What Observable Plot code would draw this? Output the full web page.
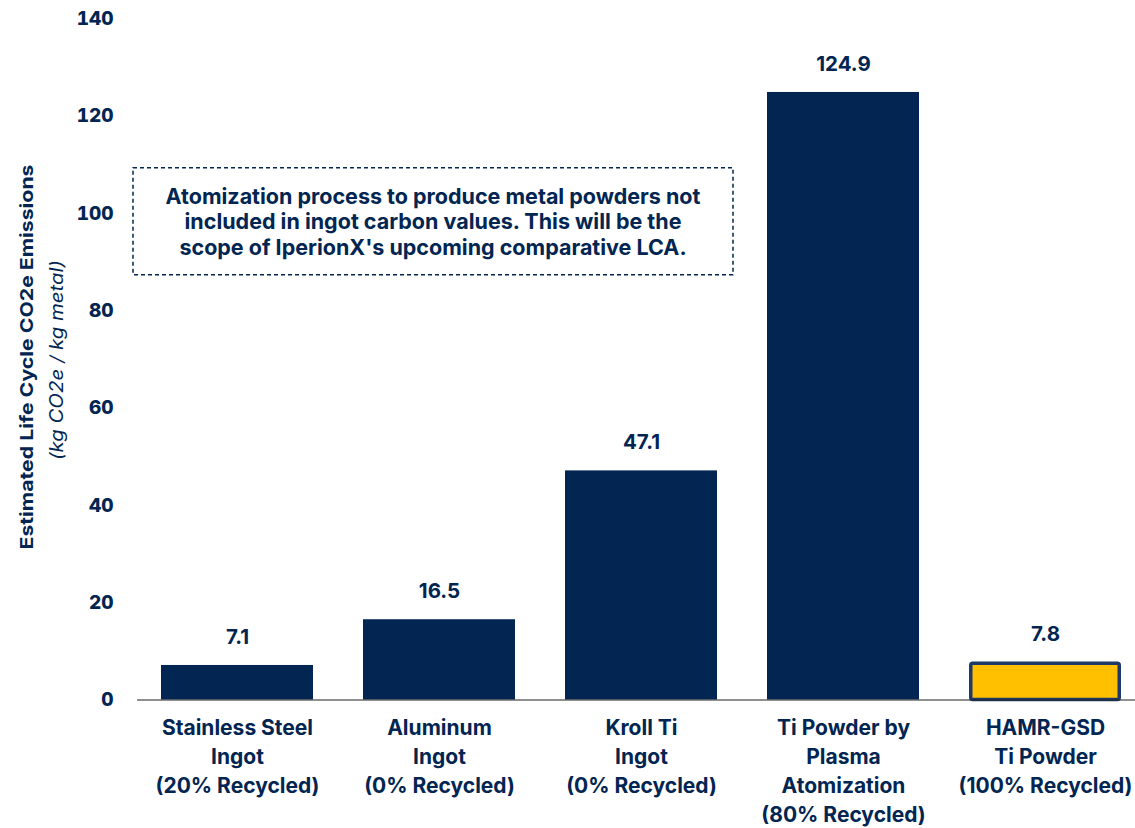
<!DOCTYPE html>
<html>
<head>
<meta charset="utf-8">
<script src="https://cdn.jsdelivr.net/npm/d3@7"></script>
<script src="https://cdn.jsdelivr.net/npm/@observablehq/plot@0.6"></script>
<style>
  html, body { margin: 0; padding: 0; background: #fff; }
  #chart { position: relative; width: 1135px; height: 828px; }
</style>
</head>
<body>
<div id="chart"></div>
<script>
// ---- data ----
const categories = [
  "Stainless Steel\nIngot\n(20% Recycled)",
  "Aluminum\nIngot\n(0% Recycled)",
  "Kroll Ti\nIngot\n(0% Recycled)",
  "Ti Powder by\nPlasma\nAtomization\n(80% Recycled)",
  "HAMR-GSD\nTi Powder\n(100% Recycled)"
];
const values = [7.1, 16.5, 47.1, 124.9, 7.8];
const highlight = [false, false, false, false, true];
const yTicks = [0, 20, 40, 60, 80, 100, 120, 140];
const yLabelMain = "Estimated Life Cycle CO2e Emissions";
const yLabelSub = "(kg CO2e / kg metal)";
const noteLines = [
  "Atomization process to produce metal powders not",
  "included in ingot carbon values. This will be the",
  "scope of IperionX's upcoming comparative LCA."
];
const noteTop = 109.3, noteBottom = 87.3;

const data = categories.map((c, i) => ({cat: c, value: values[i], hl: highlight[i]}));

const NAVY = "#022552";
const YELLOW = "#FFC000";
const FONT = "Inter, 'Noto Sans', sans-serif";

const chart = Plot.plot({
  width: 1135,
  height: 828,
  marginLeft: 137,
  marginRight: 0,
  marginTop: 18,
  marginBottom: 129,
  style: {fontFamily: FONT, color: NAVY, background: "#fff"},
  x: {domain: categories, range: [136, 1146], paddingInner: 0.25, paddingOuter: 0.125, label: null},
  y: {domain: [0, 140], range: [699.5, 18.5], label: null},
  marks: [
    Plot.barY(data.filter(d => !d.hl), {x: "cat", y: "value", fill: NAVY}),
    Plot.barY(data.filter(d => d.hl), {x: "cat", y: "value", fill: YELLOW, stroke: "#1d3a66", strokeWidth: 3.5,
      insetLeft: 1.75, insetRight: 1.75, insetTop: 1.75, rx: 2}),
    Plot.ruleY([0], {stroke: "#222", strokeWidth: 1.2}),
    Plot.text(data, {x: "cat", y: "value", text: d => d.value.toFixed(1), dy: -28,
      fill: NAVY, fontSize: 20.5, fontWeight: 700, fontFamily: FONT}),
    Plot.axisY({ticks: yTicks, tickSize: 0, tickPadding: 24, fontSize: 19, fontWeight: 800,
      fill: NAVY, label: null, fontFamily: FONT}),
    Plot.axisX({tickSize: 0, tickPadding: 15, fontSize: 21, fontWeight: 700, lineHeight: 1.38,
      fill: NAVY, label: null, fontFamily: FONT})
  ]
});

document.getElementById("chart").appendChild(chart);

const svg = d3.select(chart);
const xs = chart.scale("x"), ys = chart.scale("y");

// y-axis title
const g = svg.append("g").attr("fill", NAVY).style("font-family", FONT);
g.append("text")
  .attr("transform", `translate(26,357) rotate(-90)`)
  .attr("text-anchor", "middle").attr("dominant-baseline", "central")
  .attr("font-size", 18).attr("font-weight", 700)
  .attr("textLength", 385).attr("lengthAdjust", "spacingAndGlyphs")
  .text(yLabelMain);
g.append("text")
  .attr("transform", `translate(56,360) rotate(-90)`)
  .attr("text-anchor", "middle").attr("dominant-baseline", "central")
  .attr("font-size", 18).attr("font-style", "italic").attr("font-weight", 400)
  .attr("textLength", 200).attr("lengthAdjust", "spacingAndGlyphs")
  .text(yLabelSub);

// annotation box
const bx0 = xs.apply(categories[0]) - 28;
const bx1 = xs.apply(categories[2]) + xs.bandwidth + 16;
const by0 = ys.apply(noteTop), by1 = ys.apply(noteBottom);
svg.append("rect")
  .attr("x", bx0).attr("y", by0).attr("width", bx1 - bx0).attr("height", by1 - by0)
  .attr("fill", "none").attr("stroke", NAVY).attr("stroke-width", 1.5).attr("stroke-dasharray", "4,3");
const cx = (bx0 + bx1) / 2, cy = (by0 + by1) / 2;
noteLines.forEach((t, i) => {
  svg.append("text")
    .attr("x", cx).attr("y", cy + (i - 1) * 25.5)
    .attr("text-anchor", "middle").attr("dominant-baseline", "central")
    .attr("fill", NAVY).attr("font-size", 21.5).attr("font-weight", 700)
    .style("font-family", FONT)
    .text(t);
});
</script>
</body>
</html>
